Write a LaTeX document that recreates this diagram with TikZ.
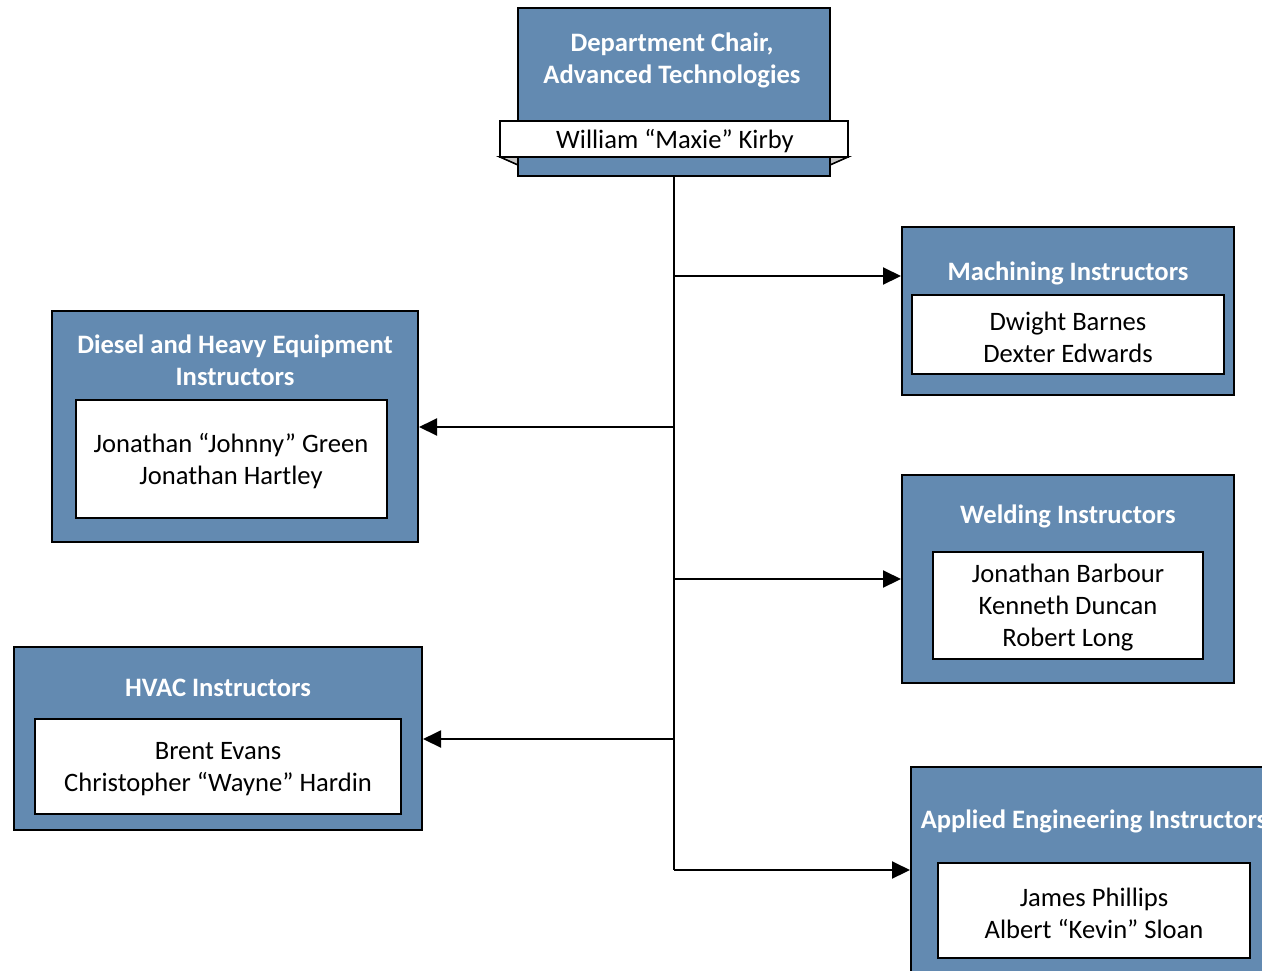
\documentclass[tikz,border=0pt]{standalone}
\usepackage{fontspec}
\setmainfont{Carlito}
\usetikzlibrary{fit,arrows.meta}
\definecolor{boxblue}{RGB}{99,138,177}
\tikzset{
  bluebox/.style={draw=black, line width=1pt, fill=boxblue, inner sep=0pt},
  whitebox/.style={draw=black, line width=1pt, fill=white, inner sep=0pt},
  titletext/.style={text=white, font=\fontsize{13.3}{16}\selectfont\bfseries, align=center, inner sep=0pt},
  nametext/.style={text=black, font=\fontsize{13.3}{16}\selectfont, align=center, inner sep=0pt},
  conn/.style={draw=black, line width=1pt, -{Triangle[length=9pt,width=8.5pt]}},
}
\begin{document}
\begin{tikzpicture}[x=0.5pt,y=-0.5pt]
\useasboundingbox (0,0) rectangle (1262,970);
\clip (0,0) rectangle (1262,970);
% top box
\node[bluebox, fit={(518,8) (830,176)}] (top) {};
\node[titletext] (toptitle) at (672,60) {Department Chair,\\Advanced Technologies};
\filldraw[fill=gray!45, draw=black, line width=0.8pt] (500,157) -- (518,165) -- (518,157) -- cycle;
\filldraw[fill=gray!45, draw=black, line width=0.8pt] (848,157) -- (830,165) -- (830,157) -- cycle;
\node[whitebox, fit={(500,121) (848,157)}] (ribbon) {};
\node[nametext] (chair) at (675,141) {William “Maxie” Kirby};
% machining
\node[bluebox, fit={(902,227) (1234,395)}] (mach) {};
\node[titletext] (machtitle) at (1068,273) {Machining Instructors};
\node[whitebox, fit={(912,295) (1224,374)}] (machin) {};
\node[nametext] (machnames) at (1068,337) {Dwight Barnes\\Dexter Edwards};
% diesel
\node[bluebox, fit={(52,311) (418,542)}] (dies) {};
\node[titletext] (diestitle) at (235,360) {Diesel and Heavy Equipment\\Instructors};
\node[whitebox, fit={(76,400) (387,518)}] (diesin) {};
\node[nametext] (diesnames) at (231,461) {Jonathan “Johnny” Green\\Jonathan Hartley};
% welding
\node[bluebox, fit={(902,475) (1234,683)}] (weld) {};
\node[titletext] (weldtitle) at (1068,516) {Welding Instructors};
\node[whitebox, fit={(933,552) (1203,659)}] (weldin) {};
\node[nametext] (weldnames) at (1068,608) {Jonathan Barbour\\Kenneth Duncan\\Robert Long};
% hvac
\node[bluebox, fit={(14,647) (422,830)}] (hvac) {};
\node[titletext] (hvactitle) at (218,688) {HVAC Instructors};
\node[whitebox, fit={(35,719) (401,814)}] (hvacin) {};
\node[nametext] (hvacnames) at (218,769) {Brent Evans\\Christopher “Wayne” Hardin};
% applied
\node[bluebox, fit={(911,767) (1277,990)}] (appl) {};
\node[titletext] (appltitle) at (1094,821) {Applied Engineering Instructors};
\node[whitebox, fit={(938,863) (1250,958)}] (applin) {};
\node[nametext] (applnames) at (1094,913) {James Phillips\\Albert “Kevin” Sloan};
% connectors
\coordinate (b1) at (674,276);
\coordinate (b2) at (674,427);
\coordinate (b3) at (674,579);
\coordinate (b4) at (674,739);
\coordinate (b5) at (674,870);
\draw[line width=1.2pt] (top.south) -- (b5);
\draw[conn] (b1) -- (mach.west |- b1);
\draw[conn] (b2) -- (dies.east |- b2);
\draw[conn] (b3) -- (weld.west |- b3);
\draw[conn] (b4) -- (hvac.east |- b4);
\draw[conn] (b5) -- (appl.west |- b5);
\end{tikzpicture}
\end{document}
